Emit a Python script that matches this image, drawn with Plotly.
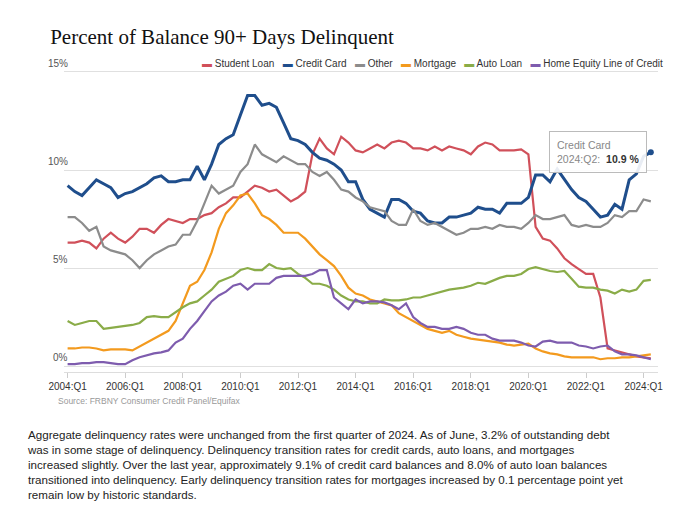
import plotly.graph_objects as go

years = list(range(2004, 2025))
quarters = [f"{y}:Q{q}" for y in years for q in range(1, 5)][:82]

student = [6.3,6.3,6.4,6.3, 6.0,6.5,6.8,6.5, 6.3,6.6,7.0,7.0, 6.8,7.2,7.5,7.4, 7.3,7.5,7.5,7.7,
           7.8,8.1,8.3,8.6, 8.6,8.9,9.2,9.1, 8.9,9.0,8.7,8.4, 8.6,8.9,10.8,11.6, 11.1,10.8,11.7,11.4,
           11.0,10.9,11.1,11.3, 11.1,11.4,11.5,11.4, 11.1,11.1,11.0,11.2, 11.0,11.2,11.1,11.0,
           10.8,11.2,11.4,11.3, 11.0,11.0,11.0,11.05, 10.8,7.1,6.5,6.4, 6.0,5.5,5.2,4.95,
           4.7,4.7,3.5,0.9, 0.8,0.7,0.6,0.5, 0.45,0.4]
credit = [9.2,8.9,8.7,9.1, 9.5,9.3,9.1,8.6, 8.8,8.9,9.1,9.3, 9.6,9.7,9.4,9.4, 9.5,9.5,10.2,9.5,
          10.3,11.3,11.6,11.8, 12.8,13.8,13.8,13.3, 13.4,13.2,12.4,11.6, 11.5,11.3,10.9,10.6,
          10.5,10.3,10.0,9.4, 9.4,8.5,8.0,7.8, 7.6,8.5,8.5,8.3, 7.9,7.8,7.4,7.3, 7.3,7.6,7.6,7.7,
          7.8,8.1,8.0,8.0, 7.8,8.3,8.3,8.3, 8.6,9.75,9.75,9.4, 10.05,9.5,9.0,8.6,
          8.4,8.0,7.6,7.7, 8.25,8.0,9.5,9.8, 10.7,10.9]
other = [7.6,7.6,7.3,6.9, 7.1,6.1,5.9,5.8, 5.7,5.4,5.0,5.4, 5.7,5.9,6.1,6.2, 6.7,6.7,7.4,8.3,
         9.2,8.8,9.0,9.2, 9.9,10.3,11.3,10.8, 10.6,10.4,10.7,10.5, 10.3,10.3,9.9,9.7,
         9.9,9.5,9.0,8.9, 8.6,8.4,8.1,8.0, 7.9,7.4,7.2,7.2, 8.0,7.4,7.2,7.3, 7.1,6.9,6.7,6.8,
         7.0,7.0,7.1,7.0, 7.2,7.1,7.1,7.0, 7.3,7.7,7.5,7.5, 7.6,7.7,7.2,7.1,
         7.2,7.1,7.1,7.3, 7.7,7.6,7.9,7.9, 8.5,8.4]
mortgage = [0.9,0.9,0.95,0.95, 0.9,0.8,0.85,0.85, 0.85,0.8,1.0,1.2, 1.4,1.6,1.8,2.3, 3.2,4.1,4.3,4.9,
            5.8,7.0,7.8,8.2, 8.7,8.8,8.3,7.7, 7.5,7.2,6.8,6.8, 6.8,6.5,6.1,5.7, 5.4,5.1,4.6,4.0,
            3.7,3.6,3.4,3.3, 3.2,3.1,2.7,2.5, 2.3,2.1,1.9,1.8, 1.7,1.8,1.6,1.5, 1.4,1.35,1.3,1.25,
            1.2,1.1,1.05,1.1, 1.15,0.9,0.75,0.65, 0.6,0.5,0.45,0.45, 0.45,0.45,0.35,0.4,
            0.4,0.45,0.45,0.5, 0.55,0.6]
auto = [2.3,2.1,2.2,2.3, 2.3,1.9,1.95,2.0, 2.05,2.1,2.2,2.5, 2.55,2.5,2.5,2.75, 3.0,3.2,3.3,3.6,
        3.9,4.3,4.45,4.6, 4.9,5.0,4.9,4.9, 5.2,5.0,4.95,5.0, 4.7,4.5,4.2,4.2, 4.1,3.9,3.6,3.4,
        3.3,3.3,3.2,3.2, 3.4,3.35,3.35,3.4, 3.5,3.5,3.6,3.7, 3.8,3.9,3.95,4.0, 4.1,4.25,4.2,4.35,
        4.5,4.6,4.6,4.7, 4.95,5.05,4.95,4.85, 4.8,4.85,4.45,4.05, 4.0,4.0,3.9,3.85,
        3.7,3.9,3.8,3.9, 4.35,4.4]
heloc = [0.1,0.1,0.15,0.15, 0.2,0.2,0.15,0.1, 0.1,0.3,0.45,0.55, 0.65,0.7,0.8,1.2, 1.4,1.9,2.3,2.8,
         3.3,3.6,3.8,4.1, 4.2,3.9,4.2,4.2, 4.2,4.5,4.6,4.6, 4.6,4.6,4.7,4.9, 4.9,3.5,3.2,2.9,
         3.4,3.2,3.3,3.3, 3.25,3.1,2.9,3.2, 2.5,2.2,2.0,2.0, 1.9,1.9,2.0,1.9, 1.7,1.6,1.6,1.4,
         1.3,1.3,1.3,1.2, 1.05,1.0,1.25,1.3, 1.2,1.2,1.2,1.05, 1.0,0.9,1.0,1.05,
         0.75,0.6,0.6,0.55, 0.45,0.35]

names = ["Student Loan", "Credit Card", "Other", "Mortgage", "Auto Loan", "Home Equity Line of Credit"]
series = [student, credit, other, mortgage, auto, heloc]
colors = ["#d0505a", "#1f4e8c", "#8c8c8c", "#f39a1e", "#8aac48", "#7e5cae"]
widths = [2.2, 3, 2.2, 2.2, 2.2, 2.2]

tick_labels = [f"{y}:Q1" for y in range(2004, 2025, 2)]
tick_pos = [quarters.index(t) for t in tick_labels]
y_ticks = [0, 5, 10, 15]

fig = go.Figure()
for n, s, c, w in zip(names, series, colors, widths):
    fig.add_trace(go.Scatter(x=list(range(len(s))), y=s, name=n, mode="lines",
                             line=dict(color=c, width=w), showlegend=False))
fig.add_trace(go.Scatter(x=[len(credit) - 1], y=[credit[-1]], mode="markers", showlegend=False,
                         marker=dict(color="#1f4e8c", size=6)))

legend_text = "   ".join(f'<span style="color:{c}">▬</span> {n}' for n, c in zip(names, colors))
fig.add_annotation(x=1.0 + 7 / 594, xref="paper", y=1.0, yref="paper", text=legend_text,
                   showarrow=False, xanchor="right", yanchor="bottom", yshift=-1,
                   font=dict(size=10, color="#333"))

for v in y_ticks:
    fig.add_annotation(x=0, xref="paper", y=v, yref="y", text=f"{v}%", showarrow=False,
                       xanchor="right", yanchor="bottom", xshift=6, yshift=1,
                       font=dict(size=10, color="#555"))

fig.add_annotation(x=len(credit) - 1, y=credit[-1], xref="x", yref="y",
                   text="Credit Card<br>2024:Q2:  <b style='color:#333'>10.9 %</b>",
                   showarrow=False, align="left", xanchor="right", yanchor="middle",
                   xshift=-4, yshift=0, bgcolor="rgba(255,255,255,0.9)", bordercolor="#bbb",
                   borderwidth=1, borderpad=7, font=dict(size=10.5, color="#888"))

fig.add_annotation(x=0, xref="paper", y=-0.12, yref="paper",
                   text="Source: FRBNY Consumer Credit Panel/Equifax", showarrow=False,
                   xanchor="left", xshift=-8, font=dict(size=8.5, color="#999"))

para = ("Aggregate delinquency rates were unchanged from the first quarter of 2024. As of June, 3.2% of outstanding debt<br>"
        "was in some stage of delinquency. Delinquency transition rates for credit cards, auto loans, and mortgages<br>"
        "increased slightly. Over the last year, approximately 9.1% of credit card balances and 8.0% of auto loan balances<br>"
        "transitioned into delinquency. Early delinquency transition rates for mortgages increased by 0.1 percentage point yet<br>"
        "remain low by historic standards.")
fig.add_annotation(x=-0.065, xref="paper", y=-0.18, yref="paper", text=para, showarrow=False,
                   xanchor="left", yanchor="top", align="left",
                   font=dict(size=11.6, color="#222", family="Liberation Sans, Arial"))

fig.update_layout(
    width=680, height=526,
    paper_bgcolor="white", plot_bgcolor="white",
    margin=dict(l=56, r=30, t=62, b=162),
    font=dict(family="Liberation Sans, Arial", color="#444"),
    title=dict(text="Percent of Balance 90+ Days Delinquent", x=0.062, xanchor="left",
               y=0.945, yanchor="middle",
               font=dict(family="Liberation Serif, Times New Roman", size=21, color="#111")),
    xaxis=dict(tickvals=tick_pos, ticktext=tick_labels, range=[-0.5, 82], showgrid=False,
               ticks="outside", ticklen=5, tickcolor="#ccc", showline=True, linecolor="#ddd",
               tickfont=dict(size=10, color="#333"), zeroline=False),
    yaxis=dict(range=[-0.3, 15.1], tickvals=y_ticks, showticklabels=False, gridcolor="#e0e0e0",
               zeroline=False),
)
fig.write_html("out.html")
